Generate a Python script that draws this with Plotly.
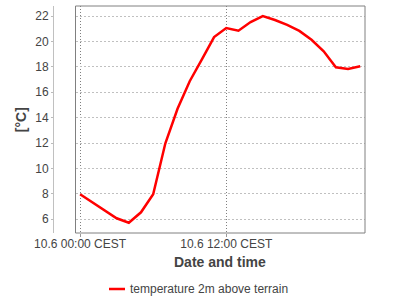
import plotly.graph_objects as go

hours = list(range(24))
times = [f"2024-06-10 {h:02d}:00" for h in hours]
temps = [7.97, 7.35, 6.75, 6.08, 5.73, 6.55, 7.97, 11.98, 14.7, 16.87, 18.58, 20.34,
         21.05, 20.84, 21.53, 22.0, 21.69, 21.3, 20.83, 20.13, 19.22, 17.97, 17.84, 18.05]
series_name = "temperature 2m above terrain"
x_tick_vals = ["2024-06-10 00:00", "2024-06-10 12:00"]
x_tick_text = ["10.6 00:00 CEST", "10.6 12:00 CEST"]
y_tick_vals = [6, 8, 10, 12, 14, 16, 18, 20, 22]
x_title = "Date and time"
y_title = "[°C]"

W, H = 400, 300
ML, MR, MT, MB = 53, 35, 6, 67
PW = W - ML - MR
PH = H - MT - MB
plot_left = 75.5


def px_x(p):
    return (p - ML) / PW


def px_y(p):
    return (MT + PH - p) / PH


FONT = "Liberation Sans, Arial, sans-serif"

fig = go.Figure()
fig.add_trace(go.Scatter(x=times, y=temps, mode="lines", name=series_name,
                         line=dict(color="#ff0000", width=2.5), showlegend=False))

fig.update_layout(
    width=W, height=H,
    margin=dict(l=ML, r=MR, t=MT, b=MB, pad=0),
    paper_bgcolor="white", plot_bgcolor="white",
    font=dict(family=FONT, size=12, color="#444444"),
    xaxis=dict(
        domain=[px_x(plot_left), 1],
        type="date",
        range=["2024-06-09 23:37:20", "2024-06-10 23:23:30"],
        tickmode="array", tickvals=x_tick_vals, ticktext=x_tick_text,
        ticks="outside", ticklen=3, tickcolor="#999999",
        ticklabelstandoff=-3,
        showgrid=True, gridcolor="#808080", griddash="1px,2px", gridwidth=1,
        showline=False, zeroline=False,
        tickfont=dict(size=12, color="#444444"),
    ),
    yaxis=dict(
        anchor="free", position=0,
        range=[4.92, 22.79],
        tickmode="array", tickvals=y_tick_vals,
        ticks="outside", ticklen=2, tickcolor="#bbbbbb",
        showgrid=True, gridcolor="#c0c0c0", griddash="2px,2px", gridwidth=1,
        showline=True, linecolor="#c0c0c0", linewidth=1,
        zeroline=False,
        tickfont=dict(size=12, color="#444444"),
    ),
    shapes=[
        dict(type="rect", xref="x domain", yref="y domain", x0=0, x1=1, y0=0, y1=1,
             line=dict(color="#808080", width=1), layer="above"),
        dict(type="line", xref="paper", yref="paper",
             x0=px_x(109), x1=px_x(125), y0=px_y(289), y1=px_y(289),
             line=dict(color="#ff0000", width=2.5)),
    ],
    annotations=[
        dict(text=f"<b>{x_title}</b>", xref="paper", yref="paper",
             x=px_x(220.3), y=px_y(262), xanchor="center", yanchor="middle",
             showarrow=False, font=dict(size=14, color="#444444", family=FONT)),
        dict(text=f"<b>{y_title}</b>", xref="paper", yref="paper",
             x=px_x(21.2), y=px_y(120), xanchor="center", yanchor="middle",
             textangle=-90, showarrow=False,
             font=dict(size=14, color="#444444", family=FONT)),
        dict(text=series_name, xref="paper", yref="paper",
             x=px_x(128), y=px_y(289), xanchor="left", yanchor="middle",
             showarrow=False, font=dict(size=12, color="#444444", family=FONT)),
    ],
)

fig.write_html("out.html")
